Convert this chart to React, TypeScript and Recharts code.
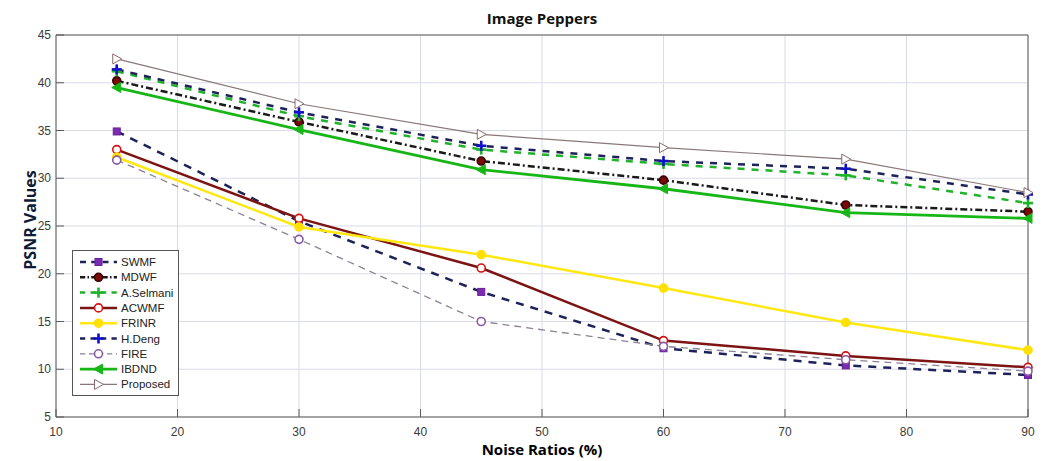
import React from "react";
import { LineChart, Line, XAxis, YAxis, CartesianGrid } from "recharts";

const noise = [15, 30, 45, 60, 75, 90];
const swmf = [34.9, 25.5, 18.1, 12.2, 10.4, 9.4];
const mdwf = [40.2, 35.9, 31.8, 29.8, 27.2, 26.5];
const selmani = [41.2, 36.5, 33.0, 31.5, 30.3, 27.4];
const acwmf = [33.0, 25.8, 20.6, 13.0, 11.4, 10.2];
const frinr = [32.2, 24.9, 22.0, 18.5, 14.9, 12.0];
const deng = [41.4, 36.9, 33.4, 31.8, 31.0, 28.3];
const fire = [31.9, 23.6, 15.0, 12.4, 11.0, 9.8];
const ibdnd = [39.5, 35.1, 30.9, 28.9, 26.4, 25.8];
const proposed = [42.5, 37.8, 34.6, 33.2, 32.0, 28.5];

const xTicks = [10, 20, 30, 40, 50, 60, 70, 80, 90];
const yTicks = [5, 10, 15, 20, 25, 30, 35, 40, 45];

const rows = noise.map((n, i) => ({
  noise: n,
  swmf: swmf[i],
  mdwf: mdwf[i],
  selmani: selmani[i],
  acwmf: acwmf[i],
  frinr: frinr[i],
  deng: deng[i],
  fire: fire[i],
  ibdnd: ibdnd[i],
  proposed: proposed[i],
}));

type Series = {
  key: string;
  name: string;
  color: string;
  width: number;
  dash?: string;
  marker: "square" | "circle" | "plus" | "triLeft" | "triRight";
  mStroke: string;
  mFill: string;
};

const series: Series[] = [
  { key: "swmf", name: "SWMF", color: "#1d2358", width: 2.5, dash: "8 7", marker: "square", mStroke: "#6a1f9a", mFill: "#7a2cb0" },
  { key: "mdwf", name: "MDWF", color: "#1a1a1a", width: 2.5, dash: "7 3 2 3", marker: "circle", mStroke: "#3a0000", mFill: "#7a0a0a" },
  { key: "selmani", name: "A.Selmani", color: "#1fb22a", width: 2.5, dash: "7 7", marker: "plus", mStroke: "#1fb22a", mFill: "#1fb22a" },
  { key: "acwmf", name: "ACWMF", color: "#7d1414", width: 2.5, marker: "circle", mStroke: "#d41010", mFill: "#ffffff" },
  { key: "frinr", name: "FRINR", color: "#ffe812", width: 2.5, marker: "circle", mStroke: "#ffe000", mFill: "#ffe000" },
  { key: "deng", name: "H.Deng", color: "#1d2358", width: 2.5, dash: "7 7", marker: "plus", mStroke: "#1010c8", mFill: "#1010c8" },
  { key: "fire", name: "FIRE", color: "#8a8296", width: 1.3, dash: "7 5", marker: "circle", mStroke: "#8a5aa6", mFill: "#ffffff" },
  { key: "ibdnd", name: "IBDND", color: "#17b617", width: 2.8, marker: "triLeft", mStroke: "#17b617", mFill: "#17b617" },
  { key: "proposed", name: "Proposed", color: "#8a7878", width: 1.2, marker: "triRight", mStroke: "#8a6a6a", mFill: "#ffffff" },
];

function Marker({ s, cx, cy }: { s: Series; cx: number; cy: number }) {
  if (s.marker === "square")
    return <rect x={cx - 3.5} y={cy - 3.5} width={7} height={7} fill={s.mFill} stroke={s.mStroke} strokeWidth={1} />;
  if (s.marker === "circle")
    return <circle cx={cx} cy={cy} r={4} fill={s.mFill} stroke={s.mStroke} strokeWidth={1.6} />;
  if (s.marker === "plus")
    return (
      <g stroke={s.mStroke} strokeWidth={2.6}>
        <line x1={cx - 5} x2={cx + 5} y1={cy} y2={cy} />
        <line x1={cx} x2={cx} y1={cy - 5} y2={cy + 5} />
      </g>
    );
  if (s.marker === "triLeft")
    return <polygon points={`${cx - 5},${cy} ${cx + 4},${cy - 5} ${cx + 4},${cy + 5}`} fill={s.mFill} stroke={s.mStroke} strokeWidth={1} />;
  return <polygon points={`${cx + 5},${cy} ${cx - 4},${cy - 5} ${cx - 4},${cy + 5}`} fill={s.mFill} stroke={s.mStroke} strokeWidth={1} />;
}

const tickFont = { fontFamily: "'Liberation Sans', Arial, sans-serif", fontSize: 12, fill: "#3a3a3a" };
const frame = "#5a5a5a";

function BottomTick(p: any) {
  return (
    <g>
      <line x1={p.x} x2={p.x} y1={p.y - 8} y2={p.y - 16} stroke={frame} />
      <text x={p.x} y={p.y} dy={11} textAnchor="middle" {...tickFont}>
        {p.payload.value}
      </text>
    </g>
  );
}
function TopTick(p: any) {
  return <line x1={p.x} x2={p.x} y1={p.y + 1} y2={p.y + 9} stroke={frame} />;
}
function LeftTick(p: any) {
  return (
    <g>
      <line x1={p.x + 5} x2={p.x + 13} y1={p.y} y2={p.y} stroke={frame} />
      <text x={p.x} y={p.y} dy={4} textAnchor="end" {...tickFont}>
        {p.payload.value}
      </text>
    </g>
  );
}
function RightTick(p: any) {
  return <line x1={p.x - 1} x2={p.x - 9} y1={p.y} y2={p.y} stroke={frame} />;
}

function LegendBox() {
  return (
    <svg
      width={108}
      height={147}
      style={{ position: "absolute", left: 72, top: 250 }}
    >
      <rect x={0.5} y={0.5} width={106} height={145} fill="#fff" stroke="#555" />
      {series.map((s, i) => {
        const y = 12 + i * 15.3;
        return (
          <g key={s.key}>
            <line x1={8} x2={45} y1={y} y2={y} stroke={s.color} strokeWidth={s.width} strokeDasharray={s.dash ? s.dash.split(" ").map((v) => Number(v) * 0.75).join(" ") : undefined} />
            <Marker s={s} cx={26.5} cy={y} />
            <text x={49} y={y + 4} fontFamily="'Liberation Sans', Arial, sans-serif" fontSize={11.5} fill="#222">
              {s.name}
            </text>
          </g>
        );
      })}
    </svg>
  );
}

export default function App() {
  return (
    <div style={{ position: "absolute", left: 0, top: 0, width: 1045, height: 461, background: "#fff" }}>
      <LineChart width={1045} height={461} data={rows} margin={{ top: 34, right: 16, left: 0, bottom: 0 }}>
        <CartesianGrid stroke="#dadbe9" />
        <XAxis dataKey="noise" type="number" domain={[10, 90]} ticks={xTicks} interval={0} height={44} tickSize={0} tickMargin={8} tickLine={false} axisLine={{ stroke: frame }} tick={BottomTick} />
        <XAxis xAxisId="top" orientation="top" type="number" domain={[10, 90]} ticks={xTicks} interval={0} height={1} tickSize={0} tickMargin={0} tickLine={false} axisLine={{ stroke: frame }} tick={TopTick} />
        <YAxis type="number" domain={[5, 45]} ticks={yTicks} interval={0} width={56} tickSize={0} tickMargin={5} tickLine={false} axisLine={{ stroke: frame }} tick={LeftTick} />
        <YAxis yAxisId="right" orientation="right" type="number" domain={[5, 45]} ticks={yTicks} interval={0} width={1} tickSize={0} tickMargin={0} tickLine={false} axisLine={{ stroke: frame }} tick={RightTick} />
        {series.map((s) => (
          <Line
            key={s.key}
            dataKey={s.key}
            name={s.name}
            type="linear"
            stroke={s.color}
            strokeWidth={s.width}
            strokeDasharray={s.dash}
            isAnimationActive={false}
            dot={(p: any) => <Marker key={`${s.key}-${p.index}`} s={s} cx={p.cx} cy={p.cy} />}
            activeDot={false}
          />
        ))}
      </LineChart>
      <div style={{ position: "absolute", left: 0, width: 1084, top: 8, textAlign: "center", fontFamily: "'Open Sans', sans-serif", fontWeight: 700, fontSize: 15, color: "#111" }}>
        Image Peppers
      </div>
      <div style={{ position: "absolute", left: 0, width: 1084, top: 439, textAlign: "center", fontFamily: "'Open Sans', sans-serif", fontWeight: 700, fontSize: 15, color: "#000" }}>
        Noise Ratios (%)
      </div>
      <div style={{ position: "absolute", left: 30, top: 220, transform: "translate(-50%, -50%) rotate(-90deg)", whiteSpace: "nowrap", fontFamily: "'Open Sans', sans-serif", fontWeight: 700, fontSize: 16, color: "#0d1b36" }}>
        PSNR Values
      </div>
      <LegendBox />
    </div>
  );
}
